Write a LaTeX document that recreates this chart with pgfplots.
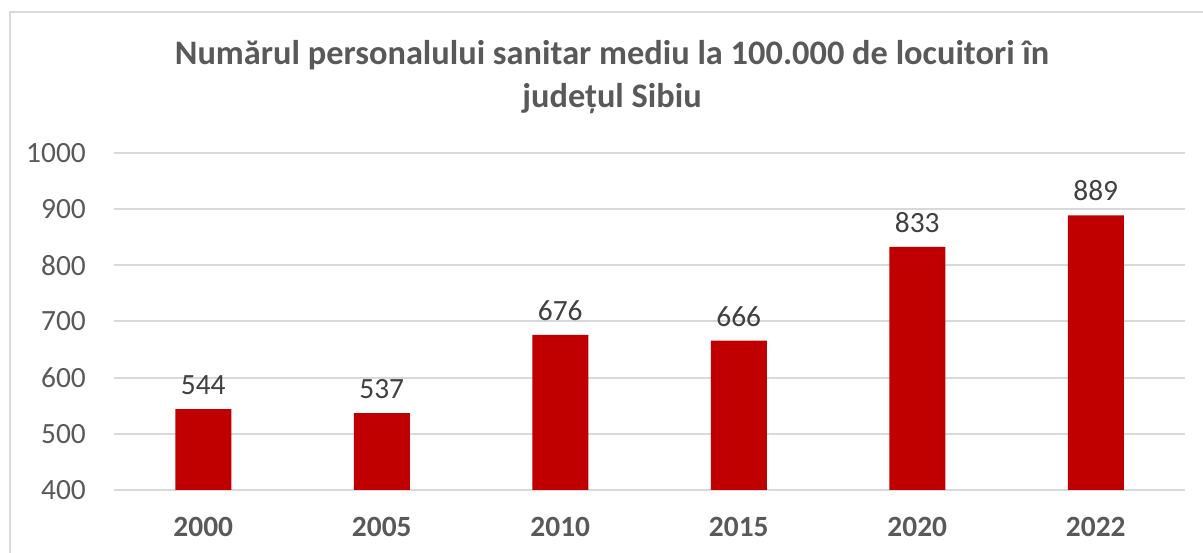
\documentclass[border=0pt]{standalone}
\usepackage{fontspec}
\setmainfont{Carlito}
\usepackage{pgfplots}
\pgfplotsset{compat=1.18}
\definecolor{barred}{HTML}{C00000}
\definecolor{gridgray}{HTML}{D9D9D9}
\definecolor{textgray}{HTML}{595959}
\definecolor{labgray}{HTML}{404040}
\begin{document}
\begin{tikzpicture}[x=1bp,y=1bp]
\clip (0,0) rectangle (1203,553);
\path[use as bounding box] (0,0) rectangle (1203,553);
\draw[gridgray, line width=1.5bp] (10,-20) rectangle (1220,541);
\node[anchor=base, text=textgray, font=\fontsize{34.5}{40}\selectfont\bfseries] at (612,488) {Numărul personalului sanitar mediu la 100.000 de locuitori în};
\node[anchor=base, text=textgray, font=\fontsize{34.5}{40}\selectfont\bfseries] at (612,445) {județul Sibiu};
\begin{axis}[
  at={(114bp,63bp)}, anchor=south west,
  scale only axis, width=1071bp, height=337bp,
  xmin=-0.5, xmax=5.5, ymin=400, ymax=1000,
  ytick={400,500,...,1000}, xtick={0,...,5},
  xticklabels={2000,2005,2010,2015,2020,2022},
  axis line style={draw=none},
  major tick length=0pt,
  ymajorgrids, grid style={gridgray, line width=2bp},
  /pgf/number format/assume math mode=true,
  /pgf/number format/1000 sep={},
  yticklabel style={font=\fontsize{29.5}{34}\selectfont, text=textgray, inner sep=0pt, anchor=east, xshift=-28bp},
  xticklabel style={font=\fontsize{29.5}{34}\selectfont\bfseries, text=textgray, inner sep=0pt, anchor=north, yshift=-27bp},
  clip=false,
]
\addplot[ybar, fill=barred, draw=none, bar width=56bp,
  nodes near coords,
  every node near coord/.append style={font=\fontsize{29.5}{34}\selectfont, text=labgray, anchor=south, inner sep=0pt, yshift=14bp},
] coordinates {(0,544) (1,537) (2,676) (3,666) (4,833) (5,889)};
\end{axis}
\end{tikzpicture}
\end{document}
